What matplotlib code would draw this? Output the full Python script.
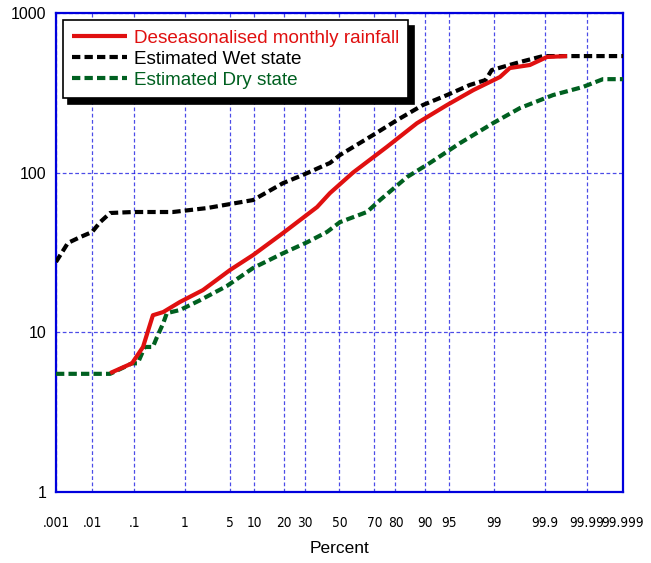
import matplotlib
matplotlib.use("Agg")
import matplotlib.pyplot as plt
from matplotlib import font_manager
from matplotlib.ticker import FixedLocator, FixedFormatter
import numpy as np
from statistics import NormalDist

# ---- data (percent exceedance, rainfall) ----
rain_pct = [0.028, 0.09, 0.156, 0.25, 0.40, 0.82, 2.0, 5.0, 9.7, 19.8, 36.8,
            44.3, 58.0, 76.2, 87.8, 94.7, 97.8, 99.21, 99.48, 99.79, 99.91,
            99.969]
rain_val = [5.56, 6.4, 8.1, 12.8, 13.4, 15.5, 18.4, 24.6, 30.5, 41.9, 60.9,
            74.5, 100, 145, 204, 265, 329, 397, 452, 472, 530, 537]

wet_pct = [0.001, 0.0022, 0.0048, 0.0099, 0.016, 0.028, 0.095, 0.61, 2.3,
           5.0, 9.7, 19.8, 29.0, 38.5, 44.3, 50.3, 69.3, 80.6, 89.5, 94.7,
           97.5, 98.6, 98.9, 99.67, 99.89, 99.969, 99.999]
wet_val = [27.6, 36.3, 39.5, 42.5, 49.1, 55.9, 56.7, 56.7, 60.0, 63.6, 67.4,
           86.0, 96.6, 108, 115, 129, 172, 213, 265, 306, 354, 380, 439, 493,
           537, 537, 537]

dry_pct = [0.001, 0.028, 0.056, 0.09, 0.12, 0.17, 0.25, 0.30, 0.40, 0.47,
           0.82, 1.8, 4.5, 9.7, 19.8, 31.2, 42.5, 50.3, 66.0, 72.9, 84.5,
           91.3, 96.5, 98.95, 99.67, 99.934, 99.9875, 99.9963, 99.999]
dry_val = [5.5, 5.5, 6.0, 6.4, 6.4, 8.1, 8.1, 9.3, 11.4, 13.2, 13.8, 15.9,
           19.5, 25.3, 31.3, 36.6, 42.5, 49.0, 56.7, 67.4, 93.8, 115, 153,
           204, 254, 306, 344, 385, 385]

xticks = [0.001, 0.01, 0.1, 1, 5, 10, 20, 30, 50, 70, 80, 90, 95, 99, 99.9,
          99.99, 99.999]
xlabels = [".001", ".01", ".1", "1", "5", "10", "20", "30", "50", "70", "80",
           "90", "95", "99", "99.9", "99.99", "99.999"]

_nd = NormalDist()
_inv = np.vectorize(lambda p: _nd.inv_cdf(min(max(p / 100.0, 1e-12), 1 - 1e-12)),
                    otypes=[float])
_cdf = np.vectorize(lambda z: _nd.cdf(z) * 100.0, otypes=[float])


def fwd(p):
    return _inv(np.asarray(p, dtype=float))


def inv(z):
    return _cdf(np.asarray(z, dtype=float))


# look for a narrow regular face for the probability labels
narrow = None
for f in font_manager.fontManager.ttflist:
    is_narrow = ('Narrow' in f.name or 'Condensed' in f.name
                 or f.stretch in ('condensed', 'semi-condensed'))
    if is_narrow and f.style == 'normal' and f.weight in (400, 'normal', 'regular'):
        narrow = f
        break

plt.rcParams['font.family'] = ['Liberation Sans', 'DejaVu Sans']

fig = plt.figure(figsize=(6.51, 5.63), dpi=100)
ax = fig.add_axes([0.086, 0.126, 0.871, 0.851])

blue = '#0000dd'
ax.plot(rain_pct, rain_val, color='#e01010', lw=3.0, solid_capstyle='butt',
        label='Deseasonalised monthly rainfall', zorder=4)
ax.plot(wet_pct, wet_val, color='black', lw=3.0, dashes=(2.0, 1.0),
        label='Estimated Wet state', zorder=3)
ax.plot(dry_pct, dry_val, color='#006020', lw=3.0, dashes=(2.0, 1.0),
        label='Estimated Dry state', zorder=3)

ax.set_xscale('function', functions=(fwd, inv))
ax.set_yscale('log')
ax.set_xlim(0.001, 99.999)
ax.set_ylim(1, 1000)

ax.xaxis.set_major_locator(FixedLocator(xticks))
ax.xaxis.set_major_formatter(FixedFormatter(xlabels))
ax.xaxis.set_minor_locator(FixedLocator([]))
ax.yaxis.set_major_locator(FixedLocator([1, 10, 100, 1000]))
ax.yaxis.set_major_formatter(FixedFormatter(["1", "10", "100", "1000"]))
ax.yaxis.set_minor_locator(FixedLocator([]))

ax.grid(True, which='major', color=blue, alpha=0.7, lw=0.9,
        linestyle=(0, (3, 2)))
for s in ax.spines.values():
    s.set_color(blue)
    s.set_linewidth(1.6)
ax.tick_params(length=0)
ax.tick_params(axis='y', pad=7, labelsize=11.5)
xsize = 9.8
ax.tick_params(axis='x', pad=17, labelsize=xsize)
if narrow is not None:
    for t in ax.get_xticklabels():
        t.set_fontproperties(font_manager.FontProperties(fname=narrow.fname,
                                                         size=xsize))

ax.set_xlabel("Percent", fontsize=12.5, labelpad=8)

leg = ax.legend(loc='upper left', bbox_to_anchor=(0.012, 0.985),
                fontsize=13.6, fancybox=False, framealpha=1,
                edgecolor='black', handlelength=2.9, handletextpad=0.35,
                labelspacing=0.2, borderpad=0.5, borderaxespad=0,
                shadow={'color': 'black', 'alpha': 1.0, 'ox': 4, 'oy': -4})
leg.get_frame().set_linewidth(1.2)
for txt, c in zip(leg.get_texts(), ['#e01010', 'black', '#006020']):
    txt.set_color(c)

fig.savefig("out.png", dpi=100)
